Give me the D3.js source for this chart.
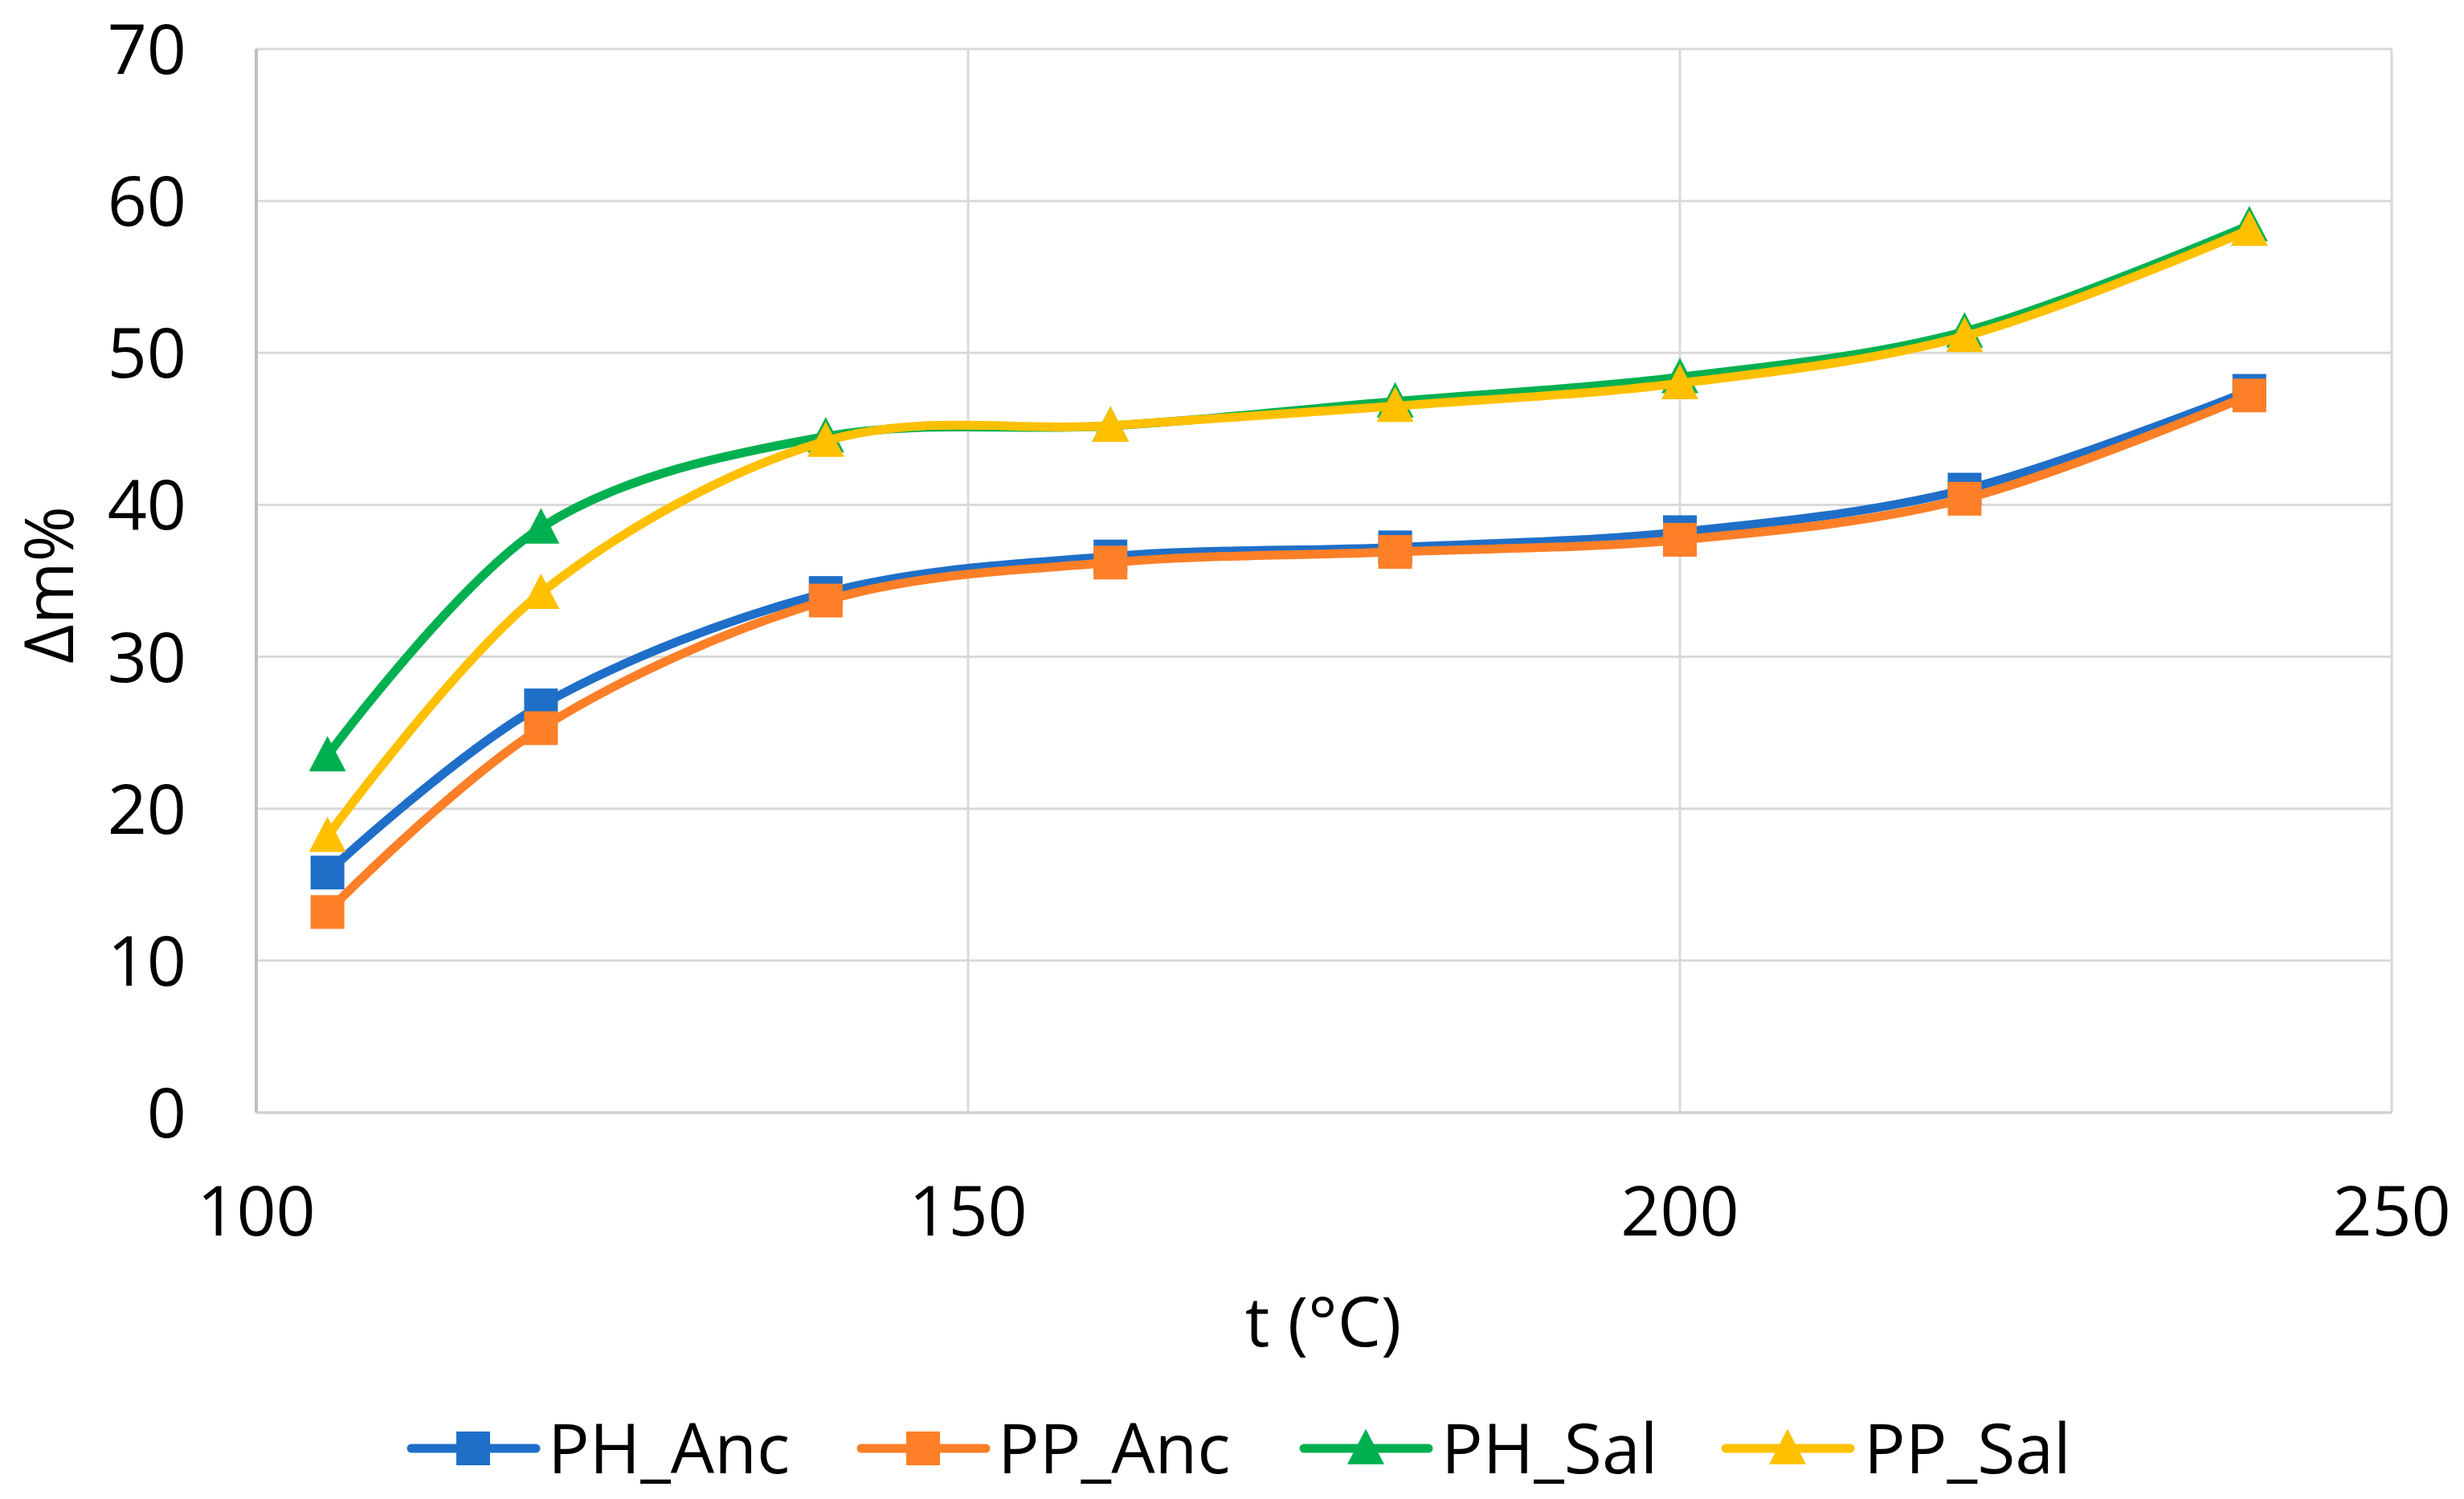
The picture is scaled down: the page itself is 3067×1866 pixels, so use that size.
<!DOCTYPE html>
<html>
<head>
<meta charset="utf-8">
<script src="https://cdn.jsdelivr.net/npm/d3@7"></script>
<style>
  html, body { margin: 0; padding: 0; background: #ffffff; }
  svg text { font-family: "Open Sans", "Noto Sans", sans-serif; fill: #000; }
</style>
</head>
<body>
<svg id="chart" width="3067" height="1866"></svg>
<script>
// ---- data ----
const temps = [105, 120, 140, 160, 180, 200, 220, 240];
const PH_Anc = [15.8, 26.8, 34.2, 36.6, 37.2, 38.2, 41.0, 47.5];
const PP_Anc = [13.2, 25.3, 33.7, 36.2, 36.9, 37.7, 40.4, 47.2];
const PH_Sal = [23.5, 38.5, 44.5, 45.2, 46.8, 48.4, 51.4, 58.4];
const PP_Sal = [18.2, 34.2, 44.2, 45.2, 46.5, 48.0, 51.1, 58.1];
const seriesNames = ["PH_Anc", "PP_Anc", "PH_Sal", "PP_Sal"];
const xTicks = [100, 150, 200, 250];
const yTicks = [0, 10, 20, 30, 40, 50, 60, 70];
const xTitle = "t (°C)";
const yTitle = "Δm%";

const series = [
  { name: seriesNames[0], values: PH_Anc, color: "#1f6fc8", marker: "square" },
  { name: seriesNames[1], values: PP_Anc, color: "#fd7f27", marker: "square" },
  { name: seriesNames[2], values: PH_Sal, color: "#00b050", marker: "triangle" },
  { name: seriesNames[3], values: PP_Sal, color: "#ffc000", marker: "triangle" }
];

const svg = d3.select("#chart");
const L = 319, R = 2977, T = 61, B = 1385;
const x = d3.scaleLinear().domain([100, 250]).range([L, R]);
const y = d3.scaleLinear().domain([0, 70]).range([B, T]);

// gridlines
const g = svg.append("g");
g.selectAll("line.hy").data(yTicks).enter().append("line")
  .attr("x1", L).attr("x2", R).attr("y1", d => y(d)).attr("y2", d => y(d))
  .attr("stroke", "#d9d9d9").attr("stroke-width", 3);
g.selectAll("line.vx").data(xTicks.slice(1)).enter().append("line")
  .attr("y1", T).attr("y2", B).attr("x1", d => x(d)).attr("x2", d => x(d))
  .attr("stroke", "#d9d9d9").attr("stroke-width", 3);
// left axis line
g.append("line").attr("x1", L).attr("x2", L).attr("y1", T).attr("y2", B)
  .attr("stroke", "#bfbfbf").attr("stroke-width", 4);
// bottom axis line
g.append("line").attr("x1", L).attr("x2", R).attr("y1", B).attr("y2", B)
  .attr("stroke", "#d0d0d0").attr("stroke-width", 3);

// tick labels
const fs = 86;
svg.selectAll("text.yt").data(yTicks).enter().append("text")
  .attr("x", 232).attr("y", d => y(d)).attr("dy", "0.36em")
  .attr("text-anchor", "end").attr("font-size", fs).text(d => d);
svg.selectAll("text.xt").data(xTicks).enter().append("text")
  .attr("x", d => x(d)).attr("y", 1538)
  .attr("text-anchor", "middle").attr("font-size", fs).text(d => d);

// axis titles
svg.append("text").attr("x", 1647).attr("y", 1676).attr("text-anchor", "middle")
  .attr("font-size", fs).text(xTitle);
svg.append("text").attr("transform", "translate(91,728) rotate(-90)")
  .attr("text-anchor", "middle").attr("font-size", 84).text(yTitle);

// markers
function drawMarker(sel, type, color, size) {
  if (type === "square") {
    sel.append("rect").attr("x", -size / 2).attr("y", -size / 2)
      .attr("width", size).attr("height", size).attr("fill", color);
  } else {
    const h = size * 1.05;
    sel.append("path")
      .attr("d", `M0,${-h * 0.55} L${size / 2 + 2},${h * 0.45} L${-size / 2 - 2},${h * 0.45} Z`)
      .attr("fill", color);
  }
}

const line = d3.line().x((d, i) => x(temps[i])).y(d => y(d)).curve(d3.curveCardinal.tension(0));
series.forEach(s => {
  const sg = svg.append("g");
  sg.append("path").attr("d", line(s.values)).attr("fill", "none")
    .attr("stroke", s.color).attr("stroke-width", 11).attr("stroke-linejoin", "round").attr("stroke-linecap", "round");
  s.values.forEach((v, i) => {
    const mg = sg.append("g").attr("transform", `translate(${x(temps[i])},${y(v)})`);
    drawMarker(mg, s.marker, s.color, 42);
  });
});

// legend
const legendItems = [
  { lx: 512, tx: 682 },
  { lx: 1072, tx: 1242 },
  { lx: 1623, tx: 1794 },
  { lx: 2148, tx: 2320 }
];
const ly = 1803;
series.forEach((s, i) => {
  const it = legendItems[i];
  const lg = svg.append("g");
  lg.append("line").attr("x1", it.lx).attr("x2", it.lx + 155).attr("y1", ly).attr("y2", ly)
    .attr("stroke", s.color).attr("stroke-width", 11).attr("stroke-linecap", "round");
  const mg = lg.append("g").attr("transform", `translate(${it.lx + 77},${ly})`);
  drawMarker(mg, s.marker, s.color, 42);
  lg.append("text").attr("x", it.tx).attr("y", ly).attr("dy", "0.36em")
    .attr("font-size", fs).text(s.name);
});
</script>
</body>
</html>
